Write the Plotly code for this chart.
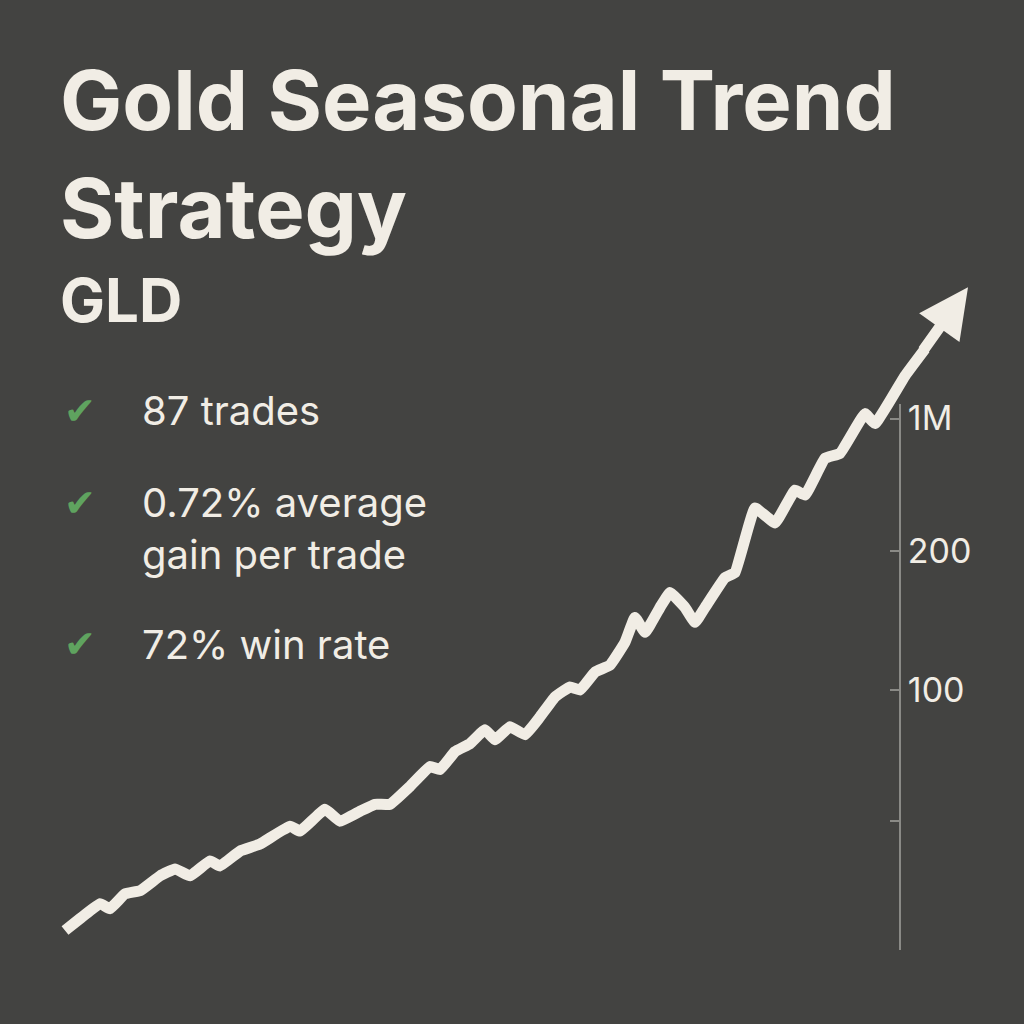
import plotly.graph_objects as go

# line (canvas units, y up)
px_x = [65, 80, 100, 110, 125, 140, 160, 175, 190, 210, 220, 240, 260, 290, 300, 325, 340, 360, 375, 390,
        410, 430, 440, 455, 470, 485, 495, 510, 525, 540, 555, 570, 580, 595, 610, 625, 635, 645, 660, 670,
        685, 695, 705, 725, 735, 755, 775, 795, 805, 825, 840, 865, 875, 905, 925]
px_y = [930, 918, 903, 908, 893, 890, 875, 868, 875, 860, 865, 850, 843, 825, 830, 808, 820, 810, 803, 803,
        785, 765, 768, 750, 742, 728, 738, 725, 733, 715, 695, 685, 688, 670, 663, 640, 615, 630, 605, 590,
        605, 620, 605, 575, 570, 505, 520, 487, 492, 455, 450, 410, 420, 372, 345]
y_vals = [1024 - v for v in px_y]

tick_vals = [609, 476, 336, 204]
tick_text = ["1M", "200", "100", ""]

bullets = ["87 trades", "0.72% average<br>gain per trade", "72% win rate"]
bullet_y = [407, 500, 642]

BG = "#434341"
FG = "#f1ede5"
GREEN = "#5fa35f"
FONT = "Inter"

fig = go.Figure()
fig.add_trace(go.Scatter(x=px_x, y=y_vals, mode="lines",
                         line=dict(color=FG, width=11, shape="spline", smoothing=0.3),
                         hoverinfo="skip"))
fig.add_trace(go.Scatter(x=[None], y=[None], yaxis="y2", showlegend=False))

fig.add_annotation(x=968, y=1024 - 283, ax=922, ay=1024 - 348, xref="x", yref="y", axref="x", ayref="y",
                   showarrow=True, arrowhead=2, arrowsize=0.9, arrowwidth=11, arrowcolor=FG, text="")

fig.add_annotation(x=58, y=1024 - 42, xref="x", yref="y", xanchor="left", yanchor="top", align="left",
                   text="<b>Gold Seasonal Trend<br>Strategy</b>", showarrow=False,
                   font=dict(family=FONT, size=83, color=FG))
fig.add_annotation(x=58, y=1024 - 296, xref="x", yref="y", xanchor="left", yanchor="middle",
                   text="<b>GLD</b>", showarrow=False, font=dict(family=FONT, size=60, color=FG))
for txt, yy in zip(bullets, bullet_y):
    fig.add_annotation(x=62, y=1024 - yy, xref="x", yref="y", xanchor="left", yanchor="middle",
                       text="✔", showarrow=False, font=dict(family="DejaVu Sans", size=38, color=GREEN))
    fig.add_annotation(x=140, y=1024 - yy, xref="x", yref="y", xanchor="left",
                       yanchor="top" if "<br>" in txt else "middle", yshift=27 if "<br>" in txt else 0,
                       align="left", text=txt, showarrow=False,
                       font=dict(family=FONT, size=40, color=FG))

fig.update_layout(
    width=1024, height=1024, margin=dict(l=0, r=0, t=0, b=0),
    paper_bgcolor=BG, plot_bgcolor="rgba(0,0,0,0)", showlegend=False,
    xaxis=dict(range=[0, 1024], visible=False, fixedrange=True),
    yaxis=dict(range=[0, 1024], visible=False, fixedrange=True, domain=[0, 1]),
    yaxis2=dict(anchor="free", position=900 / 1024, side="right",
                domain=[74 / 1024, 624 / 1024], range=[74, 624], fixedrange=True,
                showline=True, linecolor="#8a8a86", linewidth=2, showgrid=False, zeroline=False,
                ticks="inside", ticklen=9, tickcolor="#8a8a86", tickwidth=2,
                tickvals=tick_vals, ticktext=tick_text,
                tickfont=dict(family=FONT, size=34, color=FG)),
)

fig.write_html("out.html", config={"displayModeBar": False},
               post_script="document.body.style.margin='0';document.body.style.background='#434341';")
